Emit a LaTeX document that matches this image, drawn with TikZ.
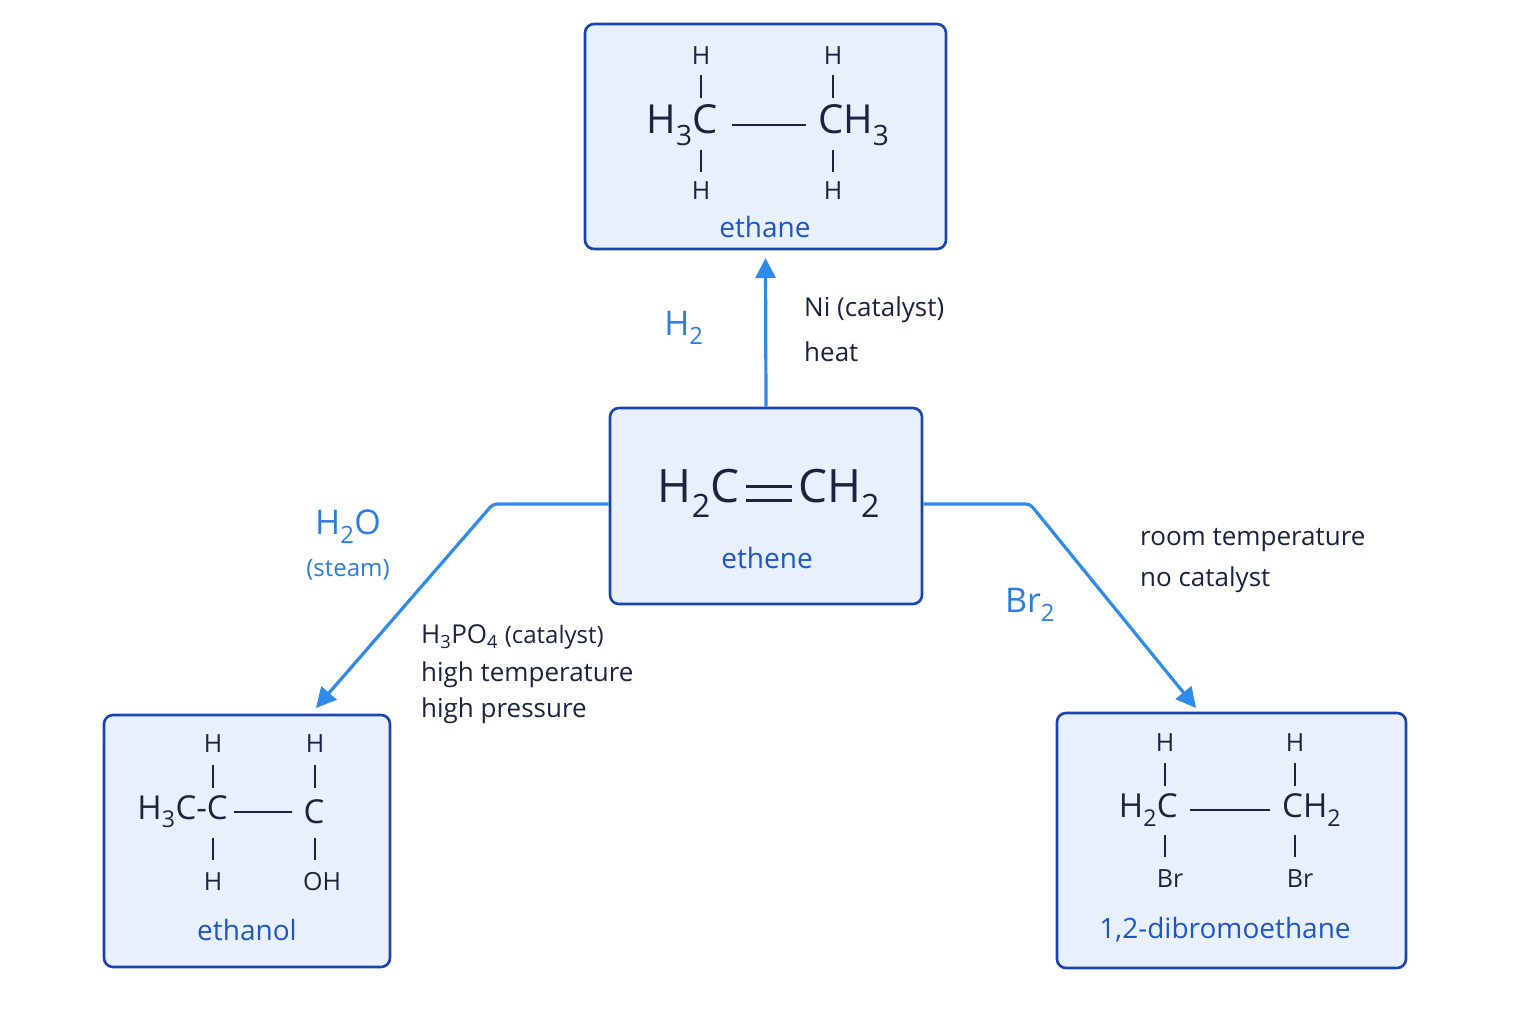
\documentclass[tikz,border=0pt]{standalone}
\usepackage{fontspec}
\setmainfont{Open Sans}
\usetikzlibrary{arrows.meta}
\definecolor{boxfill}{HTML}{E8F0FB}
\definecolor{boxline}{HTML}{1A45B0}
\definecolor{arr}{HTML}{2F8BEA}
\definecolor{ink}{HTML}{1A2340}
\definecolor{lab}{HTML}{1F55C8}
\definecolor{cond}{HTML}{2A7DE1}
\newcommand{\sub}[1]{\textsubscript{#1}}
\tikzset{
 box/.style={draw=boxline,fill=boxfill,line width=2.6pt,rounded corners=9pt},
 conn/.style={draw=arr,line width=3.2pt,-{Triangle[length=20pt,width=20pt]}},
 big/.style={text=ink,font=\fontsize{40}{46}\selectfont,inner sep=0pt},
 med/.style={text=ink,font=\fontsize{33}{38}\selectfont,inner sep=0pt},
 sm/.style={text=ink,font=\fontsize{25}{28}\selectfont,inner sep=0pt},
 cname/.style={text=lab,font=\fontsize{28}{32}\selectfont,inner sep=0pt},
 cnd/.style={text=ink,font=\fontsize{26}{32}\selectfont,inner sep=0pt,anchor=west},
 reag/.style={text=cond,font=\fontsize{34}{40}\selectfont,inner sep=0pt},
 bond/.style={draw=ink,line width=2.2pt}
}
\begin{document}
\begin{tikzpicture}[x=1pt,y=-1pt]
\fill[white] (0,0) rectangle (1536,1024);
\useasboundingbox (0,0) rectangle (1536,1024);
% boxes
\node[box,minimum width=361pt,minimum height=225pt] (bethane) at (765.5,136.5) {};
\node[box,minimum width=312pt,minimum height=196pt] (bethene) at (766,506) {};
\node[box,minimum width=286pt,minimum height=252pt] (bethanol) at (247,841) {};
\node[box,minimum width=349pt,minimum height=255pt] (bdibromo) at (1231.5,840.5) {};
% connectors
\coordinate (l0) at (bethene.west |- 0,504);
\coordinate (r0) at (bethene.east |- 0,504);
\coordinate (l1) at (493,504);
\coordinate (r1) at (1030,504);
\draw[conn] (bethene.north) -- (bethane.south |- 0,258);
\draw[conn,rounded corners=4pt] (l0) -- (l1) -- (316,708) coordinate (le);
\draw[conn,rounded corners=4pt] (r0) -- (r1) -- (1196,708) coordinate (re);
% ethane
\node[big,anchor=east] (e1) at (718,125) {H\sub{3}C};
\node[big,anchor=west] (e2) at (818,125) {CH\sub{3}};
\draw[bond] (732,125) -- (806,125);
\node[sm] (eh1) at (701,56) {H};
\node[sm] (eh2) at (833,56) {H};
\node[sm] (eh3) at (701,191) {H};
\node[sm] (eh4) at (833,191) {H};
\foreach \x in {701,833}{\draw[bond] (\x,75) -- (\x,98); \draw[bond] (\x,150) -- (\x,172);}
\node[cname] (ename) at (765,227) {ethane};
% ethene
\node[big,anchor=east,font=\fontsize{46}{52}\selectfont] (t1) at (740,493) {H\sub{2}C};
\node[big,anchor=west,font=\fontsize{46}{52}\selectfont] (t2) at (798,493) {CH\sub{2}};
\draw[bond,line width=3pt] (746,486) -- (792,486);
\draw[bond,line width=3pt] (746,500) -- (792,500);
\node[cname] (tname) at (767,558) {ethene};
% ethanol
\node[med,anchor=east] (o1) at (228,812) {H\sub{3}C-C};
\node[med] (o2) at (314,812) {C};
\draw[bond] (234,812) -- (292,812);
\node[sm] (oh1) at (213,744) {H};
\node[sm] (oh2) at (315,744) {H};
\node[sm] (oh3) at (213,882) {H};
\node[sm] (oh4) at (322,882) {OH};
\foreach \x in {213,315}{\draw[bond] (\x,765) -- (\x,788); \draw[bond] (\x,838) -- (\x,860);}
\node[cname] (oname) at (247,930) {ethanol};
% dibromo
\node[med,anchor=east] (d1) at (1178,810) {H\sub{2}C};
\node[med,anchor=west] (d2) at (1282,810) {CH\sub{2}};
\draw[bond] (1190,810) -- (1270,810);
\node[sm] (dh1) at (1165,743) {H};
\node[sm] (dh2) at (1295,743) {H};
\node[sm] (db1) at (1170,879) {Br};
\node[sm] (db2) at (1300,879) {Br};
\foreach \x in {1165,1295}{\draw[bond] (\x,763) -- (\x,786); \draw[bond] (\x,835) -- (\x,857);}
\node[cname] (dname) at (1225,930) {1,2-dibromoethane};
% conditions
\node[reag] (h2) at (684,328) {H\sub{2}};
\node[cnd] (ni) at (804,310) {Ni (catalyst)};
\node[cnd] (heat) at (804,352) {heat};
\node[reag] (h2o) at (348,527) {H\sub{2}O};
\node[text=cond,font=\fontsize{24}{28}\selectfont,inner sep=0pt] (steam) at (348,570) {(steam)};
\node[cnd] (c1) at (421,637) {H\sub{3}PO\sub{4} {\fontsize{24}{28}\selectfont(catalyst)}};
\node[cnd] (c2) at (421,675) {high temperature};
\node[cnd] (c3) at (421,711) {high pressure};
\node[reag] (br2) at (1030,605) {Br\sub{2}};
\node[cnd] (rt) at (1140,540) {room temperature};
\node[cnd] (nc) at (1140,580) {no catalyst};
\end{tikzpicture}
\end{document}
